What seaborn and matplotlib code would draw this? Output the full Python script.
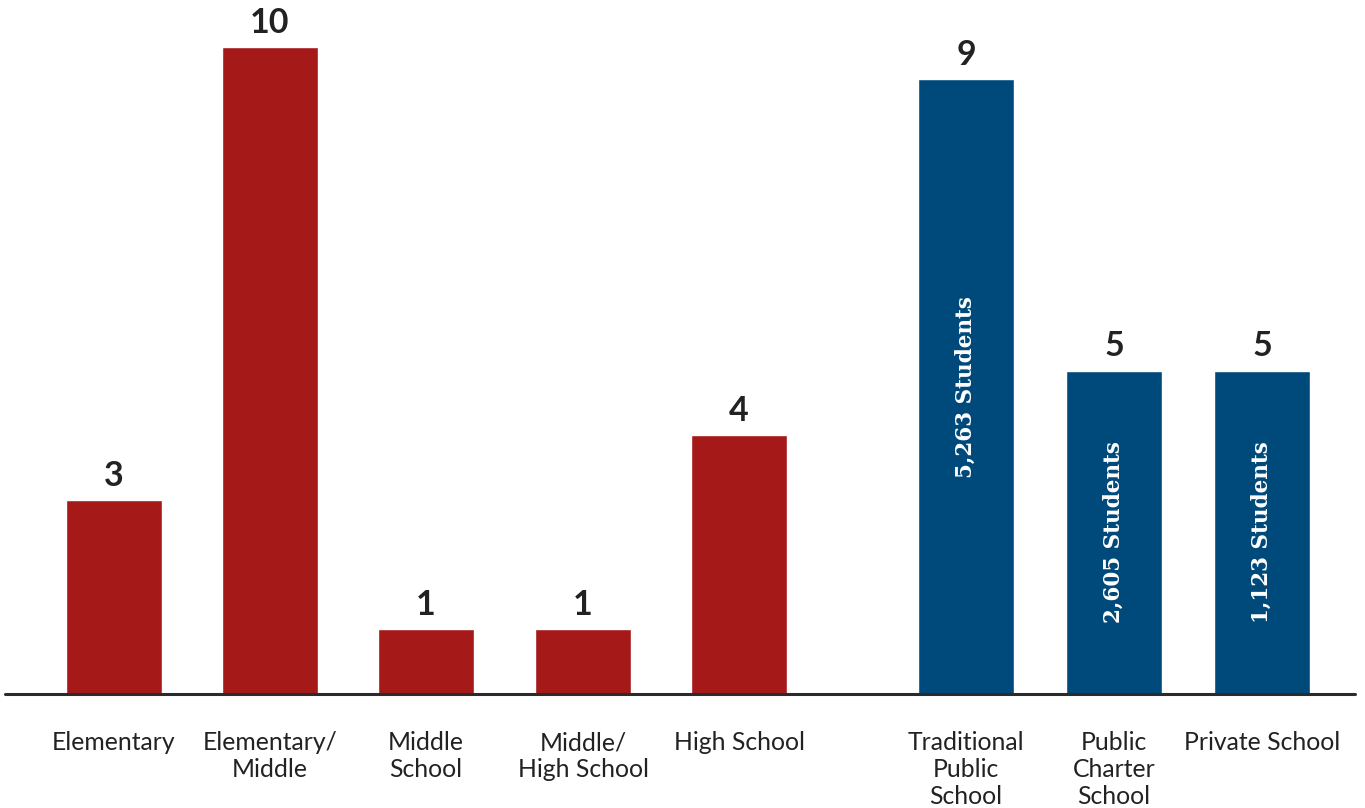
import pandas as pd
import seaborn as sns
import matplotlib.pyplot as plt

sns.set_theme(style="white")
plt.rcParams['font.family'] = ['Lato', 'DejaVu Sans']

# Data
categories = ["Elementary", "Elementary/\nMiddle", "Middle\nSchool", "Middle/\nHigh School",
              "High School", "Traditional\nPublic\nSchool", "Public\nCharter\nSchool", "Private School"]
counts = [3, 10, 1, 1, 4, 9, 5, 5]
bar_heights = [3, 10, 1, 1, 4, 9.5, 5, 5]   # the 9 bar is drawn a bit taller in the original
groups = ["level"] * 5 + ["type"] * 3
students = ["", "", "", "", "", "5,263 Students", "2,605 Students", "1,123 Students"]

# layout (pixel-like x units)
x_pos = [114, 270, 426, 583, 739, 966, 1114, 1262]
palette = {"level": "#A51919", "type": "#004A7B"}

df = pd.DataFrame({"x": x_pos, "height": bar_heights, "group": groups})

fig = plt.figure(figsize=(13.65, 8.08), dpi=100)
ax = fig.add_axes([0, 114 / 808, 1, 694 / 808])

sns.barplot(data=df, x="x", y="height", hue="group", palette=palette, native_scale=True,
            width=96 / 148, dodge=False, legend=False, saturation=1, ax=ax)

ax.set_xlim(0, 1365)
ax.set_ylim(0, 694 / 64.7)
for s in ax.spines.values():
    s.set_visible(False)
ax.axhline(0, xmin=5 / 1365, xmax=1355 / 1365, color="#2b2b2b", lw=2.2, clip_on=False)
ax.set_yticks([])
ax.set_xlabel("")
ax.set_ylabel("")
ax.set_xticks(x_pos)
ax.set_xticklabels(categories, fontsize=17.8, color="#222222", linespacing=1.2, va="top")
ax.tick_params(axis="x", length=0, pad=27)

for x, h, c, st in zip(x_pos, bar_heights, counts, students):
    ax.annotate(str(c), (x, h), xytext=(0, 6), textcoords="offset points", ha="center",
                va="bottom", fontsize=24.5, fontweight="bold", color="#222222")
    if st:
        ax.text(x, h / 2, st, rotation=90, ha="center", va="center", color="white",
                fontsize=15.5, fontweight="bold", family="DejaVu Serif")

fig.savefig("out.png", dpi=100)
